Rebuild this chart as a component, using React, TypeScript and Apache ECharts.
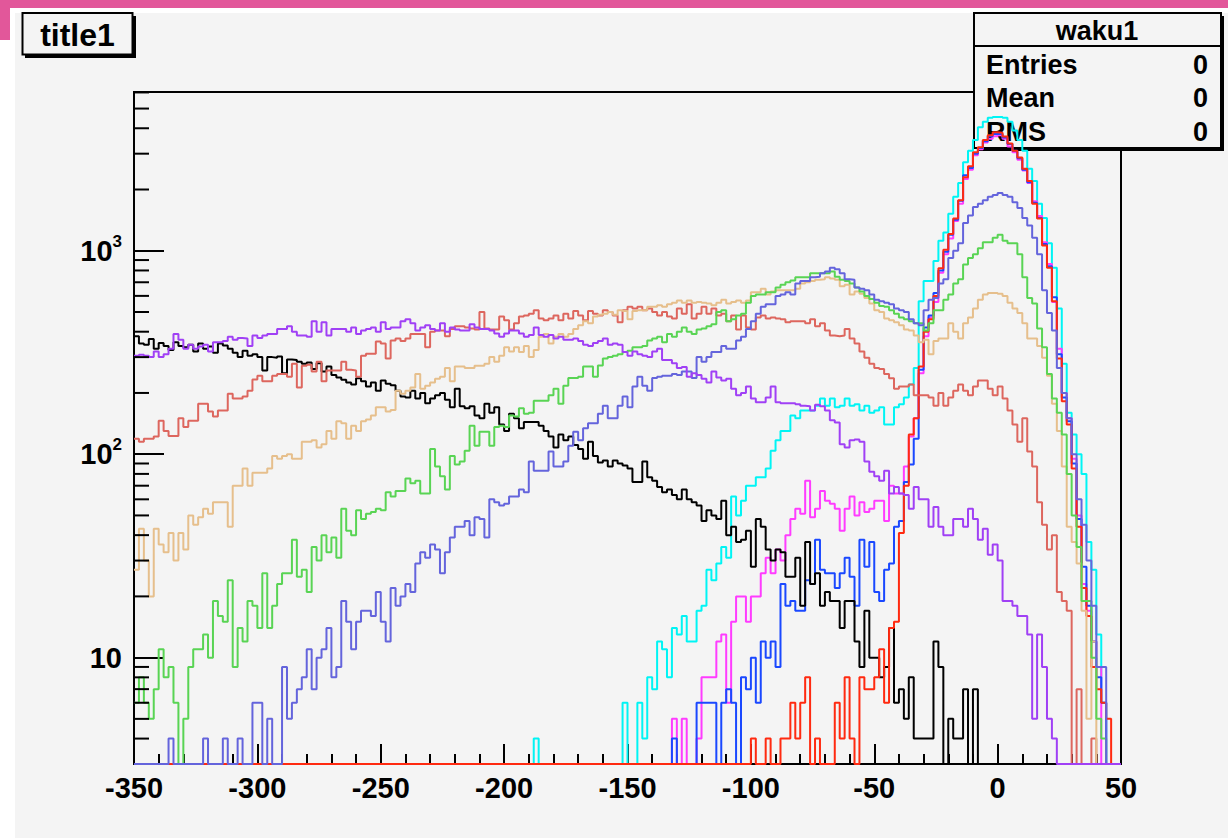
import React, { useEffect, useRef } from "react";
import * as echarts from "echarts";

// ---- axis setup ----
const X_MIN = -350;
const X_MAX = 50;
const BIN_W = 2;
const Y_MIN = 3;
const Y_MAX = 6030;
const X_INTERVAL = 50;
const Y_MINOR_BASES = [1, 10, 100, 1000];
const Y_MINOR_MULTS = [2, 3, 4, 5, 6, 7, 8, 9];

// ---- histogram contents (200 bins of width 2, from -350 to 50) ----
const black = [
  380, 350, 345, 368, 330, 352, 340, 325, 355, 340,
  335, 345, 320, 350, 330, 338, 315, 350, 342, 330,
  315, 300, 322, 305, 310, 300, 258, 300, 298, 302,
  250, 292, 290, 285, 278, 282, 262, 280, 255, 270,
  245, 238, 232, 225, 220, 236, 228, 215, 225, 205,
  230, 222, 218, 205, 192, 190, 205, 188, 200, 178,
  188, 195, 200, 185, 170, 210, 172, 168, 172, 155,
  150, 177, 160, 170, 140, 130, 158, 150, 134, 144,
  144, 144, 138, 130, 122, 108, 125, 117, 122, 111,
  106, 95, 115, 98, 91, 93, 87, 93, 90, 88,
  85, 73, 73, 92, 77, 74, 69, 65, 67, 63,
  60, 67, 60, 58, 56, 47, 53, 50, 48, 59,
  40, 44, 37, 38, 42, 28, 48, 44, 34, 30,
  34, 33, 25, 25, 31, 18, 37, 23, 26, 18,
  21, 19, 19, 14, 19, 19, 12, 9, 17, 10,
  10, 8, 9, 14, 6, 7, 5, 8, 4, 4,
  4, 4, 12, 9, 0, 5, 4, 4, 7, 0,
  7, 0, 0, 0, 0, 0, 0, 0, 0, 0,
  0, 0, 0, 0, 0, 0, 0, 0, 0, 0,
  0, 0, 0, 0, 0, 0, 0, 0, 0, 0,
];

const salmon = [
  119, 115, 119, 119, 122, 146, 130, 123, 123, 150,
  136, 146, 146, 177, 177, 162, 153, 164, 164, 198,
  188, 188, 192, 205, 233, 243, 228, 228, 243, 248,
  248, 240, 278, 213, 272, 275, 255, 285, 228, 258,
  258, 258, 285, 260, 258, 240, 305, 312, 312, 358,
  350, 295, 362, 370, 360, 370, 390, 390, 390, 335,
  400, 405, 405, 380, 413, 425, 425, 420, 415, 410,
  500, 415, 410, 410, 475, 455, 410, 440, 475, 480,
  490, 510, 465, 455, 465, 480, 455, 490, 465, 505,
  480, 455, 505, 490, 480, 510, 500, 480, 445, 510,
  530, 520, 530, 510, 520, 500, 480, 500, 475, 465,
  520, 490, 545, 465, 490, 530, 490, 520, 480, 490,
  450, 480, 410, 480, 420, 410, 470, 480, 465, 470,
  465, 460, 445, 450, 450, 450, 440, 460, 425, 440,
  405, 383, 380, 383, 413, 370, 350, 320, 298, 278,
  265, 262, 248, 236, 210, 215, 215, 220, 195, 195,
  195, 190, 173, 200, 173, 190, 205, 220, 205, 195,
  215, 230, 230, 210, 195, 215, 188, 164, 140, 115,
  150, 103, 87, 58, 45, 34, 40, 21, 19, 17,
  0, 7, 0, 0, 4, 0, 0, 0, 0, 0,
];

const tan = [
  27, 43, 30, 20, 43, 36, 33, 41, 30, 41,
  34, 50, 45, 49, 54, 51, 58, 58, 58, 44,
  70, 70, 85, 70, 81, 81, 81, 85, 98, 95,
  98, 100, 95, 95, 115, 115, 117, 108, 112, 130,
  119, 145, 142, 119, 138, 130, 145, 148, 155, 170,
  170, 162, 165, 205, 198, 205, 213, 248, 210, 217,
  225, 235, 240, 265, 228, 270, 270, 265, 265, 272,
  272, 278, 300, 285, 305, 335, 320, 335, 318, 340,
  300, 325, 378, 390, 350, 378, 390, 378, 390, 413,
  430, 450, 440, 475, 485, 490, 500, 485, 510, 505,
  460, 505, 510, 510, 530, 530, 540, 530, 545, 555,
  570, 555, 570, 555, 560, 555, 550, 540, 555, 575,
  550, 560, 570, 555, 570, 625, 625, 650, 610, 630,
  640, 640, 640, 640, 650, 690, 700, 710, 720, 725,
  740, 730, 720, 670, 680, 610, 630, 615, 585, 550,
  510, 500, 465, 455, 445, 430, 410, 405, 383, 355,
  365, 310, 360, 370, 370, 440, 400, 370, 440, 470,
  520, 575, 610, 620, 620, 615, 600, 555, 520, 495,
  440, 370, 370, 340, 298, 243, 177, 130, 87, 44,
  37, 29, 17, 5, 12, 0, 0, 0, 0, 0,
];

const green = [
  6, 8, 6, 5, 7, 11, 8, 9, 6, 0,
  5, 9, 11, 11, 13, 10, 19, 16, 15, 24,
  9, 14, 12, 19, 18, 14, 26, 14, 18, 23,
  26, 26, 38, 25, 27, 21, 35, 30, 40, 33,
  39, 31, 54, 42, 40, 53, 48, 51, 52, 54,
  53, 65, 62, 66, 66, 76, 72, 74, 64, 64,
  106, 87, 78, 67, 98, 89, 92, 104, 138, 110,
  129, 129, 110, 136, 138, 136, 155, 153, 168, 158,
  160, 183, 183, 183, 195, 210, 177, 217, 237, 237,
  240, 270, 270, 240, 273, 295, 300, 305, 310, 318,
  322, 335, 335, 340, 362, 370, 378, 355, 390, 378,
  400, 420, 400, 390, 410, 415, 425, 435, 500, 510,
  450, 460, 480, 490, 555, 600, 610, 610, 625, 625,
  660, 680, 700, 715, 740, 740, 740, 775, 775, 775,
  775, 790, 745, 720, 710, 690, 660, 630, 600, 580,
  555, 535, 530, 510, 490, 470, 460, 450, 440, 440,
  405, 440, 510, 510, 575, 610, 690, 725, 855, 920,
  960, 1030, 1100, 1100, 1160, 1200, 1120, 1090, 1090, 960,
  740, 585, 550, 415, 335, 248, 188, 160, 125, 80,
  50, 35, 19, 19, 10, 5, 4, 0, 0, 0,
];

const slateBlue = [
  0, 0, 0, 0, 0, 0, 0, 4, 0, 0,
  0, 0, 0, 0, 4, 0, 0, 0, 4, 0,
  0, 4, 0, 0, 6, 6, 0, 5, 0, 0,
  9, 5, 6, 7, 8, 11, 7, 10, 11, 14,
  8, 9, 19, 15, 11, 15, 17, 17, 16, 21,
  15, 12, 22, 18, 20, 23, 21, 29, 33, 31,
  36, 34, 26, 33, 39, 44, 44, 47, 40, 49,
  48, 39, 60, 58, 56, 57, 62, 62, 67, 65,
  92, 83, 83, 83, 103, 87, 87, 92, 110, 129,
  117, 134, 142, 142, 158, 173, 150, 150, 173, 192,
  170, 215, 240, 217, 205, 237, 240, 243, 243, 248,
  245, 255, 255, 237, 300, 285, 300, 318, 318, 340,
  330, 330, 362, 378, 413, 450, 490, 530, 545, 545,
  600, 610, 625, 610, 690, 710, 710, 740, 745, 775,
  790, 825, 810, 775, 725, 720, 660, 650, 640, 610,
  575, 565, 555, 545, 520, 510, 500, 460, 440, 430,
  510, 575, 585, 690, 725, 920, 1000, 1090, 1370, 1490,
  1640, 1700, 1770, 1840, 1880, 1920, 1880, 1840, 1730, 1620,
  1450, 1330, 1160, 960, 640, 495, 405, 265, 200, 150,
  100, 60, 45, 30, 18, 9, 9, 0, 0, 0,
];

const purple = [
  305, 308, 305, 300, 320, 300, 310, 330, 390, 365,
  330, 345, 330, 338, 345, 320, 355, 355, 360, 378,
  365, 372, 370, 340, 383, 372, 383, 390, 390, 412,
  412, 425, 400, 383, 383, 378, 450, 400, 445, 383,
  412, 412, 412, 400, 420, 390, 405, 412, 420, 400,
  445, 412, 420, 420, 450, 460, 440, 405, 420, 430,
  412, 405, 440, 400, 420, 410, 405, 405, 435, 420,
  412, 412, 405, 392, 378, 392, 405, 405, 392, 378,
  385, 420, 385, 378, 385, 370, 378, 365, 365, 370,
  360, 345, 340, 352, 360, 370, 345, 350, 345, 318,
  305, 320, 310, 305, 300, 320, 330, 290, 290, 280,
  265, 268, 240, 250, 245, 235, 225, 255, 238, 230,
  235, 210, 195, 200, 215, 188, 180, 180, 190, 215,
  180, 178, 178, 178, 176, 173, 172, 164, 175, 172,
  164, 147, 143, 112, 108, 117, 118, 115, 92, 82,
  78, 74, 83, 64, 69, 64, 63, 54, 69, 60,
  60, 44, 55, 44, 40, 40, 48, 48, 44, 54,
  48, 38, 43, 32, 36, 30, 19, 19, 18, 16,
  16, 13, 5, 13, 9, 5, 4, 0, 0, 0,
  0, 0, 0, 0, 0, 0, 0, 0, 0, 0,
];

const cyan = [
  0, 0, 0, 0, 0, 0, 0, 0, 0, 0,
  0, 0, 0, 0, 0, 0, 0, 0, 0, 0,
  0, 0, 0, 0, 0, 0, 0, 0, 0, 0,
  0, 0, 0, 0, 0, 0, 0, 0, 0, 0,
  0, 0, 0, 0, 0, 0, 0, 0, 0, 0,
  0, 0, 0, 0, 0, 0, 0, 0, 0, 0,
  0, 0, 0, 0, 0, 0, 0, 0, 0, 0,
  0, 0, 0, 0, 0, 0, 0, 0, 0, 0,
  0, 4, 0, 0, 0, 0, 0, 0, 0, 0,
  0, 0, 0, 0, 0, 0, 0, 0, 0, 6,
  0, 0, 6, 4, 8, 7, 12, 11, 8, 14,
  13, 16, 12, 12, 17, 18, 27, 24, 29, 35,
  31, 62, 50, 59, 70, 70, 77, 77, 85, 104,
  117, 130, 130, 155, 150, 164, 164, 164, 173, 188,
  173, 188, 170, 173, 188, 173, 176, 164, 173, 160,
  164, 170, 140, 140, 170, 176, 190, 220, 265, 565,
  710, 710, 890, 1120, 1230, 1520, 1840, 2150, 2720, 3100,
  3500, 4050, 4300, 4500, 4550, 4550, 4500, 4300, 3900, 3500,
  3100, 2530, 2200, 1700, 1450, 1090, 825, 520, 278, 160,
  125, 100, 80, 37, 27, 13, 6, 0, 0, 0,
];

const magenta = [
  0, 0, 0, 0, 0, 0, 0, 0, 0, 0,
  0, 0, 0, 0, 0, 0, 0, 0, 0, 0,
  0, 0, 0, 0, 0, 0, 0, 0, 0, 0,
  0, 0, 0, 0, 0, 0, 0, 0, 0, 0,
  0, 0, 0, 0, 0, 0, 0, 0, 0, 0,
  0, 0, 0, 0, 0, 0, 0, 0, 0, 0,
  0, 0, 0, 0, 0, 0, 0, 0, 0, 0,
  0, 0, 0, 0, 0, 0, 0, 0, 0, 0,
  0, 0, 0, 0, 0, 0, 0, 0, 0, 0,
  0, 0, 0, 0, 0, 0, 0, 0, 0, 0,
  0, 0, 0, 0, 0, 0, 0, 0, 0, 5,
  0, 5, 0, 0, 4, 8, 8, 8, 12, 13,
  6, 15, 20, 20, 15, 20, 20, 26, 31, 26,
  34, 30, 40, 48, 54, 51, 74, 49, 54, 66,
  59, 57, 54, 42, 54, 62, 50, 58, 52, 54,
  59, 59, 47, 70, 64, 64, 87, 122, 150, 250,
  380, 470, 560, 780, 960, 1150, 1400, 1700, 2250, 2500,
  2950, 3150, 3400, 3550, 3650, 3700, 3550, 3250, 3050, 2800,
  2480, 2150, 1750, 1480, 1100, 860, 560, 330, 200, 150,
  95, 50, 23, 17, 12, 9, 0, 0, 0, 0,
];

const blue = [
  0, 0, 0, 0, 0, 0, 0, 0, 0, 0,
  0, 0, 0, 0, 0, 0, 0, 0, 0, 0,
  0, 0, 0, 0, 0, 0, 0, 0, 0, 0,
  0, 0, 0, 0, 0, 0, 0, 0, 0, 0,
  0, 0, 0, 0, 0, 0, 0, 0, 0, 0,
  0, 0, 0, 0, 0, 0, 0, 0, 0, 0,
  0, 0, 0, 0, 0, 0, 0, 0, 0, 0,
  0, 0, 0, 0, 0, 0, 0, 0, 0, 0,
  0, 0, 0, 0, 0, 0, 0, 0, 0, 0,
  0, 0, 0, 0, 0, 0, 0, 0, 0, 0,
  0, 0, 0, 0, 0, 0, 0, 0, 0, 4,
  0, 0, 0, 0, 6, 6, 6, 6, 0, 6,
  7, 6, 0, 8, 7, 10, 6, 12, 10, 12,
  9, 23, 18, 19, 17, 17, 24, 23, 38, 27,
  26, 26, 22, 26, 31, 25, 18, 38, 28, 37,
  21, 19, 27, 29, 44, 47, 73, 89, 119, 260,
  420, 480, 620, 800, 990, 1200, 1420, 1760, 2350, 2550,
  3000, 3200, 3450, 3650, 3750, 3750, 3600, 3350, 3100, 2850,
  2500, 2170, 1720, 1450, 1080, 840, 590, 310, 190, 145,
  90, 48, 28, 18, 12, 8, 6, 0, 0, 0,
];

const red = [
  0, 0, 0, 0, 0, 0, 0, 0, 0, 0,
  0, 0, 0, 0, 0, 0, 0, 0, 0, 0,
  0, 0, 0, 0, 0, 0, 0, 0, 0, 0,
  0, 0, 0, 0, 0, 0, 0, 0, 0, 0,
  0, 0, 0, 0, 0, 0, 0, 0, 0, 0,
  0, 0, 0, 0, 0, 0, 0, 0, 0, 0,
  0, 0, 0, 0, 0, 0, 0, 0, 0, 0,
  0, 0, 0, 0, 0, 0, 0, 0, 0, 0,
  0, 0, 0, 0, 0, 0, 0, 0, 0, 0,
  0, 0, 0, 0, 0, 0, 0, 0, 0, 0,
  0, 0, 0, 0, 0, 0, 0, 0, 0, 0,
  0, 0, 0, 0, 0, 0, 0, 0, 0, 0,
  0, 0, 0, 0, 0, 4, 0, 0, 4, 0,
  0, 4, 4, 6, 4, 6, 8, 0, 4, 0,
  0, 0, 6, 4, 8, 4, 0, 8, 7, 7,
  8, 11, 6, 14, 15, 41, 70, 125, 150, 270,
  400, 460, 600, 820, 1010, 1210, 1440, 1770, 2300, 2600,
  3050, 3230, 3500, 3700, 3820, 3800, 3640, 3370, 3100, 2870,
  2530, 2200, 1700, 1440, 1060, 825, 565, 295, 182, 140,
  85, 44, 22, 16, 9, 7, 6, 5, 0, 0,
];

// drawing order (later ones on top)
const SERIES_LIST = [
  { name: "cyan", color: "#00f4f4", values: cyan },
  { name: "magenta", color: "#ff3cff", values: magenta },
  { name: "blue", color: "#1a48ff", values: blue },
  { name: "black", color: "#000000", values: black },
  { name: "red", color: "#ff2a10", values: red },
  { name: "salmon", color: "#dd665e", values: salmon },
  { name: "tan", color: "#e6bf8c", values: tan },
  { name: "green", color: "#59d454", values: green },
  { name: "slateBlue", color: "#6464dc", values: slateBlue },
  { name: "purple", color: "#a040f5", values: purple },
];

const FONT = '"Liberation Sans", Arial, Helvetica, sans-serif';

function toSteps(vals: number[]) {
  const pts: number[][] = vals.map((v, i) => [X_MIN + i * BIN_W, v > 0 ? v : Y_MIN]);
  const last = vals[vals.length - 1];
  pts.push([X_MIN + vals.length * BIN_W, last > 0 ? last : Y_MIN]);
  return pts;
}

function yLabel(v: number) {
  const e = Math.log10(v);
  const r = Math.round(e);
  if (Math.abs(e - r) > 1e-6 || r < 1) return "";
  if (r === 1) return "10";
  return "10{s|" + r + "}";
}

export default function App() {
  const ref = useRef<HTMLDivElement>(null);
  useEffect(() => {
    if (!ref.current) return;
    const chart = echarts.init(ref.current, null, { renderer: "svg" });
    const staticGraphics: any[] = [
      { type: "rect", id: "wl", z: 0, shape: { x: 0, y: 0, width: 15, height: 838 }, style: { fill: "#ffffff" } },
      { type: "rect", id: "wt", z: 0, shape: { x: 0, y: 0, width: 1228, height: 13 }, style: { fill: "#ffffff" } },
      { type: "rect", id: "pt", z: 0, shape: { x: 0, y: 0, width: 1228, height: 8 }, style: { fill: "#e2579a" } },
      { type: "rect", id: "pl", z: 0, shape: { x: 0, y: 0, width: 10, height: 40 }, style: { fill: "#e2579a" } },
      // title box
      { type: "rect", id: "tsh", z: 1, shape: { x: 25, y: 16, width: 111, height: 42 }, style: { fill: "#000" } },
      { type: "rect", id: "tbox", z: 1, shape: { x: 22.5, y: 13, width: 110, height: 41.5 }, style: { fill: "#f4f4f4", stroke: "#000", lineWidth: 2 } },
      { type: "text", id: "ttxt", z: 1, x: 77.5, y: 35, style: { text: "title1", fill: "#000", font: "bold 32px " + FONT, align: "center", verticalAlign: "middle" } },
      // stats box
      { type: "rect", id: "ssh", z: 1, shape: { x: 977, y: 16, width: 247, height: 135 }, style: { fill: "#000" } },
      { type: "rect", id: "sbox", z: 1, shape: { x: 974, y: 13, width: 247, height: 135 }, style: { fill: "#f4f4f4", stroke: "#000", lineWidth: 2 } },
      { type: "line", id: "sdiv", z: 1, shape: { x1: 974, y1: 46, x2: 1221, y2: 46 }, style: { stroke: "#000", lineWidth: 2 } },
      { type: "text", id: "sname", z: 1, x: 1097, y: 31, style: { text: "waku1", fill: "#000", font: "bold 27px " + FONT, align: "center", verticalAlign: "middle" } },
      { type: "text", id: "s1", z: 1, x: 986, y: 65, style: { text: "Entries", fill: "#000", font: "bold 27px " + FONT, align: "left", verticalAlign: "middle" } },
      { type: "text", id: "s2", z: 1, x: 986, y: 98, style: { text: "Mean", fill: "#000", font: "bold 27px " + FONT, align: "left", verticalAlign: "middle" } },
      { type: "text", id: "s3", z: 1, x: 986, y: 132, style: { text: "RMS", fill: "#000", font: "bold 27px " + FONT, align: "left", verticalAlign: "middle" } },
      { type: "text", id: "v1", z: 1, x: 1208, y: 65, style: { text: "0", fill: "#000", font: "bold 27px " + FONT, align: "right", verticalAlign: "middle" } },
      { type: "text", id: "v2", z: 1, x: 1208, y: 98, style: { text: "0", fill: "#000", font: "bold 27px " + FONT, align: "right", verticalAlign: "middle" } },
      { type: "text", id: "v3", z: 1, x: 1208, y: 132, style: { text: "0", fill: "#000", font: "bold 27px " + FONT, align: "right", verticalAlign: "middle" } },
    ];

    chart.setOption({
      animation: false,
      backgroundColor: "#f4f4f4",
      textStyle: { fontFamily: FONT },
      grid: {
        left: 134, top: 92, width: 987, height: 672,
        show: true, borderColor: "#000", borderWidth: 2, backgroundColor: "transparent",
      },
      xAxis: {
        type: "value", min: X_MIN, max: X_MAX, interval: X_INTERVAL,
        axisLine: { show: true, onZero: false, lineStyle: { color: "#000", width: 2 } },
        axisTick: { show: true, inside: true, length: 20, lineStyle: { color: "#000", width: 2 } },
        minorTick: { show: true, splitNumber: 5, length: 10, lineStyle: { color: "#000", width: 2 } },
        splitLine: { show: false },
        minorSplitLine: { show: false },
        axisLabel: { color: "#000", fontSize: 29, fontWeight: "bold", fontFamily: FONT, margin: 9 },
      },
      yAxis: {
        type: "log", logBase: 10, min: Y_MIN, max: Y_MAX,
        axisLine: { show: true, onZero: false, lineStyle: { color: "#000", width: 2 } },
        axisTick: { show: true, inside: true, length: 30, lineStyle: { color: "#000", width: 2 } },
        splitLine: { show: false },
        axisLabel: {
          color: "#000", fontSize: 29, fontWeight: "bold", fontFamily: FONT, margin: 12,
          lineHeight: 36,
          formatter: (v: number) => yLabel(v),
          rich: {
            s: { fontSize: 17, fontWeight: "bold", fontFamily: FONT, color: "#000", verticalAlign: "top", lineHeight: 17 },
          },
        },
      },
      graphic: { elements: staticGraphics },
      series: SERIES_LIST.map((s) => ({
        name: s.name,
        type: "line",
        step: "end",
        data: toSteps(s.values),
        showSymbol: false,
        symbol: "none",
        silent: true,
        clip: true,
        lineStyle: { color: s.color, width: 2 },
      })),
    });

    // minor ticks of the log axis at 2..9 x 10^n, placed through the axis scale
    const x0 = chart.convertToPixel({ xAxisIndex: 0 }, X_MIN) as number;
    const ticks: any[] = [];
    Y_MINOR_BASES.forEach((b) => {
      Y_MINOR_MULTS.forEach((m) => {
        const v = b * m;
        if (v <= Y_MIN || v >= Y_MAX) return;
        const y = chart.convertToPixel({ yAxisIndex: 0 }, v) as number;
        ticks.push({
          type: "line", id: "mt" + v, z: 5, silent: true,
          shape: { x1: x0, y1: y, x2: x0 + 15, y2: y },
          style: { stroke: "#000", lineWidth: 2 },
        });
      });
    });
    chart.setOption({ graphic: { elements: ticks } });

    return () => chart.dispose();
  }, []);

  return <div ref={ref} style={{ position: "absolute", left: 0, top: 0, width: 1228, height: 838 }} />;
}
